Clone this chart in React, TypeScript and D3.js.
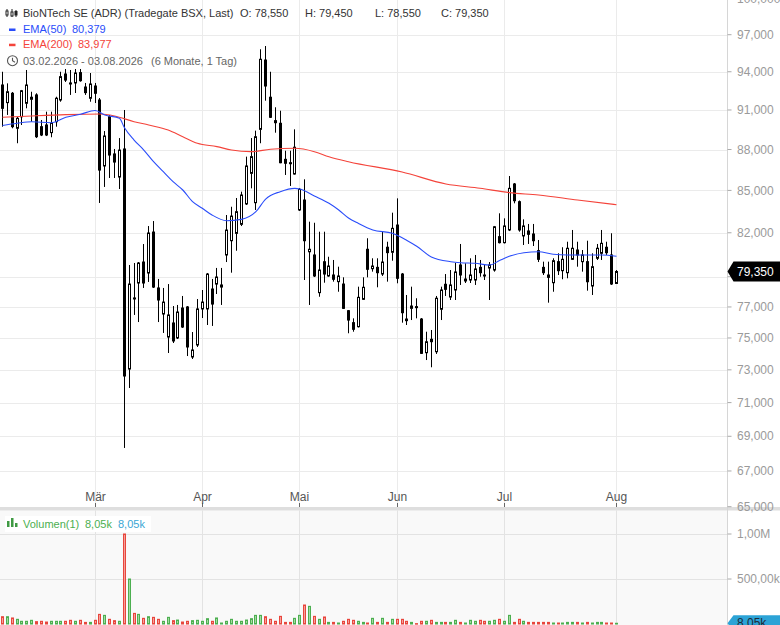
import React from 'react';
import * as d3 from 'd3';

// ---------- DATA ----------
const opens = [
  92950, 91570, 92300, 89600, 90480, 91520, 91830, 92170, 89720, 89850,
  89270, 90100, 91775, 93820, 93110, 93110, 93930, 92790, 91910, 92870,
  91775, 86780, 90480, 87670, 85970, 88040, 73050, 77590, 78580, 79990,
  79250, 82050, 78250, 76540, 75060, 75960, 75000, 76930, 77000, 73800,
  74555, 76870, 76870, 78180, 78510, 78310, 80470, 81450, 81960, 82590,
  84030, 86240, 84120, 89520, 94940, 91990, 90180, 89980, 87270, 87020,
  86190, 83600, 84310, 80690, 80470, 77940, 80010, 79050, 79115, 78670,
  78510, 76755, 75980, 75720, 77500, 80860, 79540, 79630, 79180, 81000,
  80655, 82540, 79180, 76215, 76910, 77020, 76215, 74070, 74915, 74130,
  76850, 78495, 77650, 78115, 79790, 78715, 78780, 78780, 79630, 79115,
  79585, 79450, 81730, 81315, 82195, 85465, 84190, 81780, 82125, 81915,
  80765, 79630, 79115, 78600, 80015, 79405, 79270, 80175, 80810, 80015,
  80015, 78380, 80245, 80585, 81000, 80470, 78550,
];
const highs = [
  94000, 93080, 92400, 90460, 92560, 94140, 92420, 92300, 90230, 90870,
  90870, 92030, 94000, 94220, 94140, 94220, 94220, 93110, 93900, 93110,
  91930, 89390, 90615, 88040, 88860, 91000, 79790, 79925, 79990, 81220,
  82470, 82820, 78850, 78250, 78510, 77060, 77130, 77720, 77060, 75380,
  77520, 78115, 79250, 78850, 79590, 79590, 83245, 83830, 84455, 84910,
  87470, 88860, 89420, 95810, 96075, 94000, 91210, 90945, 87910, 87910,
  89520, 85175, 85805, 82775, 82700, 82075, 82075, 80350, 80130, 79675,
  78960, 76800, 76260, 78335, 78960, 81620, 80245, 80245, 82075, 81380,
  83410, 84430, 79250, 77785, 78335, 77570, 76280, 75400, 75510, 77720,
  78335, 79180, 79450, 79925, 81225, 79905, 80245, 80470, 80130, 79790,
  79990, 82475, 83365, 83010, 86045, 85535, 84275, 82940, 82615, 82615,
  81500, 80015, 80015, 80245, 80585, 81000, 81380, 82195, 81380, 80810,
  81450, 80585, 81225, 82195, 81380, 81965, 79450,
];
const lows = [
  89720, 90620, 89600, 88470, 89850, 91130, 90100, 88860, 89010, 89010,
  88920, 89720, 91640, 93190, 92170, 92320, 93210, 92170, 91640, 91540,
  84100, 85250, 85900, 85900, 85100, 68320, 71885, 76480, 76020, 78250,
  78650, 78250, 76020, 75320, 74050, 74680, 74935, 75640, 73860, 73675,
  74430, 76280, 75830, 75770, 77850, 77130, 79990, 79270, 80760, 82470,
  83955, 85150, 83600, 88470, 91720, 90385, 89265, 86980, 86120, 85320,
  86150, 83530, 78780, 77130, 78980, 77670, 78600, 79000, 78670, 78000,
  76866, 75300, 75400, 75670, 77455, 78960, 79340, 78295, 79050, 78670,
  80080, 78560, 75980, 75830, 76150, 76260, 73990, 73610, 73160, 73990,
  76150, 77720, 77455, 77455, 78450, 78580, 78580, 78450, 79000, 78780,
  77455, 79340, 81260, 81260, 82120, 84075, 82075, 81155, 81225, 81085,
  79990, 79115, 77280, 78000, 79115, 78830, 78895, 80130, 79675, 79340,
  78070, 77785, 80130, 80130, 80470, 78450, 78550,
];
const closes = [
  91130, 92420, 89720, 90360, 92500, 92950, 91990, 88960, 89090, 89090,
  89980, 91910, 93610, 93340, 93030, 93900, 93290, 92350, 93030, 92300,
  86480, 89015, 87590, 87070, 87960, 72620, 78510, 77550, 79925, 78580,
  81985, 78310, 77455, 77320, 76480, 74810, 76670, 75700, 74430, 74240,
  76870, 77320, 79180, 77190, 78980, 78450, 82190, 83170, 83480, 84670,
  86780, 87470, 88960, 95000, 92870, 90440, 90025, 87020, 86980, 87000,
  88170, 85080, 81450, 80860, 79050, 79450, 79180, 79720, 78830, 79050,
  76910, 76150, 75555, 77630, 78295, 79500, 79720, 79270, 79990, 80630,
  82310, 78895, 76625, 76110, 77060, 77000, 74030, 74760, 74765, 77570,
  78115, 78160, 78450, 79320, 79115, 78845, 79115, 79520, 79270, 79100,
  79790, 82420, 81315, 82475, 85150, 84260, 82195, 82475, 81895, 81450,
  80175, 79270, 78960, 80080, 79405, 80175, 80930, 80930, 80470, 80470,
  78665, 79675, 80930, 81270, 80625, 78515, 79350,
];
const volumes = [
  81000, 81000, 67000, 52000, 30000, 30000, 41000, 26000, 30000, 22000,
  30000, 30000, 30000, 30000, 41000, 30000, 41000, 18000, 18000, 41000,
  107000, 96000, 52000, 37000, 30000, 1000000, 500000, 118000, 107000, 63000,
  81000, 74000, 52000, 30000, 74000, 37000, 44000, 22000, 30000, 37000,
  41000, 30000, 59000, 30000, 67000, 11000, 30000, 52000, 30000, 30000,
  44000, 59000, 96000, 96000, 81000, 52000, 30000, 85000, 18000, 18000,
  63000, 96000, 211000, 196000, 85000, 52000, 78000, 18000, 18000, 11000,
  30000, 52000, 41000, 30000, 18000, 11000, 63000, 18000, 63000, 18000,
  52000, 52000, 52000, 30000, 18000, 4000, 30000, 30000, 41000, 18000,
  18000, 18000, 18000, 41000, 18000, 11000, 41000, 30000, 41000, 30000,
  30000, 41000, 52000, 30000, 96000, 18000, 52000, 30000, 18000, 18000,
  18000, 18000, 18000, 11000, 11000, 11000, 18000, 18000, 18000, 11000,
  18000, 11000, 18000, 18000, 11000, 11000, 8050,
];

const ema50Idx = [0, 3, 6, 10, 13, 16, 19, 21, 24, 25, 27, 29, 31, 33, 35, 37, 39, 41, 43, 46, 49, 52, 54, 57, 60, 61, 64, 67, 69, 71, 73, 76, 80, 83, 85, 88, 92, 94, 97, 100, 102, 104, 107, 110, 113, 116, 119, 123, 126];
const ema50Val = [89810, 89980, 90100, 90025, 90440, 90670, 90960, 90615, 90360, 89660, 88710, 87960, 87095, 86360, 85630, 85030, 84190, 83720, 83245, 82845, 82940, 83480, 84380, 84910, 85150, 85100, 84600, 84075, 83600, 83035, 82660, 82195, 81965, 81465, 81065, 80335, 80015, 79945, 79905, 79790, 80095, 80380, 80625, 80695, 80520, 80470, 80470, 80470, 80379];
const ema200Idx = [0, 6, 13, 20, 23, 27, 30, 34, 37, 40, 44, 47, 51, 55, 60, 64, 67, 71, 82, 91, 98, 104, 110, 118, 126];
const ema200Val = [90440, 90540, 90640, 90690, 90540, 90100, 89850, 89470, 88960, 88465, 88215, 87965, 87840, 88015, 88090, 87840, 87465, 87095, 86340, 85465, 85155, 84840, 84670, 84310, 83977];

const monthIdx = [19, 41, 61, 81, 103, 126];
const monthLabels = ['Mär', 'Apr', 'Mai', 'Jun', 'Jul', 'Aug'];
const priceTicks = [100000, 97000, 94000, 91000, 88000, 85000, 82000, 79000, 77000, 75000, 73000, 71000, 69000, 67000, 65000];
const volTicks = [1000000, 500000];
const volTickLabels = ['1,00M', '500,00k'];

const lastPriceLabel = '79,350';
const lastVolLabel = '8,05k';

// ---------- LAYOUT ----------
const W = 780;
const H = 625;
const PLOT_R = 727.5;
const MAIN_BOTTOM = 507;
const VOL_TOP = 510.5;
const FONT = '"Liberation Sans", Arial, sans-serif';

const fmt = (v: number) => d3.format(',')(v);

export default function App() {
  React.useEffect(() => {
    document.body.style.margin = '0';
  }, []);

  const n = closes.length;
  const x = d3.scaleLinear().domain([0, n - 1]).range([2.5, 616.5]);
  const y = d3.scaleLog().domain([65000, 100000]).range([506.7, -1.2]);
  const yv = d3.scaleLinear().domain([0, 1000000]).range([624, 534]);

  const px = (i: number) => Math.floor(x(i)) + 0.5;

  const line50 = d3
    .line<number>()
    .x((_, k) => x(ema50Idx[k]))
    .y((v) => y(v))
    .curve(d3.curveMonotoneX)(ema50Val);
  const line200 = d3
    .line<number>()
    .x((_, k) => x(ema200Idx[k]))
    .y((v) => y(v))
    .curve(d3.curveMonotoneX)(ema200Val);

  const lastY = y(closes[n - 1]);
  const lastVY = yv(volumes[n - 1]);

  return (
    <svg
      width={W}
      height={H}
      style={{ position: 'absolute', left: 0, top: 0, background: '#fff', fontFamily: FONT }}
    >
      <defs>
        <clipPath id="mainClip">
          <rect x={0} y={0} width={PLOT_R} height={MAIN_BOTTOM} />
        </clipPath>
        <clipPath id="volClip">
          <rect x={0} y={VOL_TOP} width={PLOT_R} height={H - VOL_TOP} />
        </clipPath>
      </defs>

      {/* volume panel background */}
      <rect x={0} y={VOL_TOP} width={PLOT_R} height={H - VOL_TOP} fill="#f9f9f9" />

      {/* horizontal grid (price) */}
      {priceTicks.map((t) => (
        <line key={'hg' + t} x1={0} x2={PLOT_R} y1={Math.round(y(t)) + 0.5} y2={Math.round(y(t)) + 0.5} stroke="#ebebeb" />
      ))}
      {/* horizontal grid (volume) */}
      {volTicks.map((t) => (
        <line key={'vg' + t} x1={0} x2={PLOT_R} y1={Math.round(yv(t)) + 0.5} y2={Math.round(yv(t)) + 0.5} stroke="#e3e3e3" />
      ))}
      {/* vertical month grid */}
      {monthIdx.map((m) => (
        <g key={'mg' + m}>
          <line x1={px(m)} x2={px(m)} y1={0} y2={MAIN_BOTTOM} stroke="#ebebeb" />
          <line x1={px(m)} x2={px(m)} y1={VOL_TOP} y2={H} stroke="#e3e3e3" />
        </g>
      ))}

      {/* candles */}
      <g clipPath="url(#mainClip)">
        {closes.map((c, i) => {
          const o = opens[i];
          const up = c >= o;
          const cx = px(i);
          const top = y(Math.max(o, c));
          const bot = y(Math.min(o, c));
          const h = Math.max(bot - top, 1);
          return (
            <g key={'c' + i}>
              <line x1={cx} x2={cx} y1={y(highs[i])} y2={y(lows[i])} stroke="#000" strokeWidth={1} />
              <rect x={cx - 1} y={top} width={2} height={h} fill={up ? '#fff' : '#000'} stroke="#000" strokeWidth={1} />
            </g>
          );
        })}
        <path d={line200 || ''} fill="none" stroke="#f4433a" strokeWidth={1.1} />
        <path d={line50 || ''} fill="none" stroke="#2a4dfa" strokeWidth={1.1} />
      </g>

      {/* volume bars */}
      <g clipPath="url(#volClip)">
        {volumes.map((v, i) => {
          const up = closes[i] >= opens[i];
          const cx = px(i);
          const top = yv(v);
          return (
            <rect
              key={'v' + i}
              x={cx - 1}
              y={top}
              width={2}
              height={Math.max(yv(0) - top, 0.5)}
              fill={up ? '#a3d9a0' : '#f5a09a'}
              stroke={up ? '#4caf50' : '#e8453c'}
              strokeWidth={1}
            />
          );
        })}
      </g>

      {/* separator */}
      <rect x={0} y={MAIN_BOTTOM} width={W} height={VOL_TOP - MAIN_BOTTOM} fill="#dedede" />

      {/* right axis line */}
      <line x1={PLOT_R} x2={PLOT_R} y1={0} y2={H} stroke="#d6d6d6" />

      {/* price ticks and labels (label hidden where the last-price tag sits) */}
      {priceTicks.map((t) => (
        <g key={'pt' + t}>
          <line x1={PLOT_R} x2={PLOT_R + 4} y1={y(t)} y2={y(t)} stroke="#aaa" />
          {Math.abs(y(t) - lastY) > 12 && (
            <text x={737} y={y(t)} dy="0.35em" fontSize={12} fill="#9a9a9a">
              {fmt(t)}
            </text>
          )}
        </g>
      ))}
      {/* volume ticks */}
      {volTicks.map((t, k) => (
        <g key={'vt' + t}>
          <line x1={PLOT_R} x2={PLOT_R + 4} y1={yv(t)} y2={yv(t)} stroke="#aaa" />
          <text x={737} y={yv(t)} dy="0.35em" fontSize={12} fill="#9a9a9a">
            {volTickLabels[k]}
          </text>
        </g>
      ))}

      {/* month labels */}
      {monthIdx.map((m, k) => (
        <g key={'ml' + m}>
          <line x1={px(m)} x2={px(m)} y1={503} y2={MAIN_BOTTOM} stroke="#666" />
          <text x={px(m)} y={497} dy="0.35em" textAnchor="middle" fontSize={12} fill="#555">
            {monthLabels[k]}
          </text>
        </g>
      ))}

      {/* last price label */}
      <path
        d={`M${PLOT_R},${lastY} L${PLOT_R + 6},${lastY - 10} L${W},${lastY - 10} L${W},${lastY + 10} L${PLOT_R + 6},${lastY + 10} Z`}
        fill="#000"
      />
      <text x={737} y={lastY} dy="0.35em" fontSize={12} fill="#fff">
        {lastPriceLabel}
      </text>

      {/* last volume label */}
      <path
        d={`M${PLOT_R},${lastVY} L${PLOT_R + 6},${lastVY - 8} L${W},${lastVY - 8} L${W},${lastVY + 8} L${PLOT_R + 6},${lastVY + 8} Z`}
        fill="#2ca3d6"
      />
      <text x={737} y={lastVY} dy="0.35em" fontSize={12} fill="#1c2a38">
        {lastVolLabel}
      </text>

      {/* legend */}
      <g fontSize={11}>
        {/* candle icon */}
        <g stroke="#222" strokeWidth={1}>
          <line x1={7} x2={7} y1={9} y2={17} />
          <rect x={6} y={11} width={2} height={4} fill="#fff" />
          <line x1={12} x2={12} y1={9} y2={17} />
          <rect x={11} y={12} width={2} height={4} fill="#fff" />
          <line x1={16} x2={16} y1={10} y2={17} />
          <rect x={15} y={11.5} width={2} height={3.5} fill="#222" />
        </g>
        <text x={23} y={13.3} dy="0.35em" fill="#333">BioNTech SE (ADR) (Tradegate BSX, Last)</text>
        <text x={240} y={13.3} dy="0.35em" fill="#333">O: 78,550</text>
        <text x={305} y={13.3} dy="0.35em" fill="#333">H: 79,450</text>
        <text x={375} y={13.3} dy="0.35em" fill="#333">L: 78,550</text>
        <text x={441} y={13.3} dy="0.35em" fill="#333">C: 79,350</text>

        <rect x={9} y={28.5} width={6.5} height={2.5} fill="#2a4dfa" />
        <text x={23} y={28.7} dy="0.35em" fill="#2a4dfa">EMA(50)</text>
        <text x={72} y={28.7} dy="0.35em" fill="#2a4dfa">80,379</text>

        <rect x={9} y={43.7} width={6.5} height={2.5} fill="#f4433a" />
        <text x={23} y={44.3} dy="0.35em" fill="#f4433a">EMA(200)</text>
        <text x={78} y={44.3} dy="0.35em" fill="#f4433a">83,977</text>

        <g stroke="#555" fill="none" strokeWidth={1.1}>
          <circle cx={12.5} cy={60.7} r={5} />
          <polyline points="12.5,57.7 12.5,60.7 15,62.2" />
        </g>
        <text x={23} y={60.7} dy="0.35em" fill="#666">03.02.2026 - 03.08.2026</text>
        <text x={151} y={60.7} dy="0.35em" fill="#666">(6 Monate, 1 Tag)</text>
      </g>

      {/* volume legend */}
      <rect x={5} y={516} width={146} height={16} fill="#fff" />
      <g fill="#3f9a43">
        <rect x={7} y={521} width={2.5} height={6} />
        <rect x={11} y={518} width={2.5} height={9} />
        <rect x={15} y={523} width={2.5} height={4} />
      </g>
      <text x={23} y={524} dy="0.35em" fontSize={11} fill="#4caf50">Volumen(1)</text>
      <text x={85} y={524} dy="0.35em" fontSize={11} fill="#4caf50">8,05k</text>
      <text x={118} y={524} dy="0.35em" fontSize={11} fill="#3aa6d4">8,05k</text>
    </svg>
  );
}
